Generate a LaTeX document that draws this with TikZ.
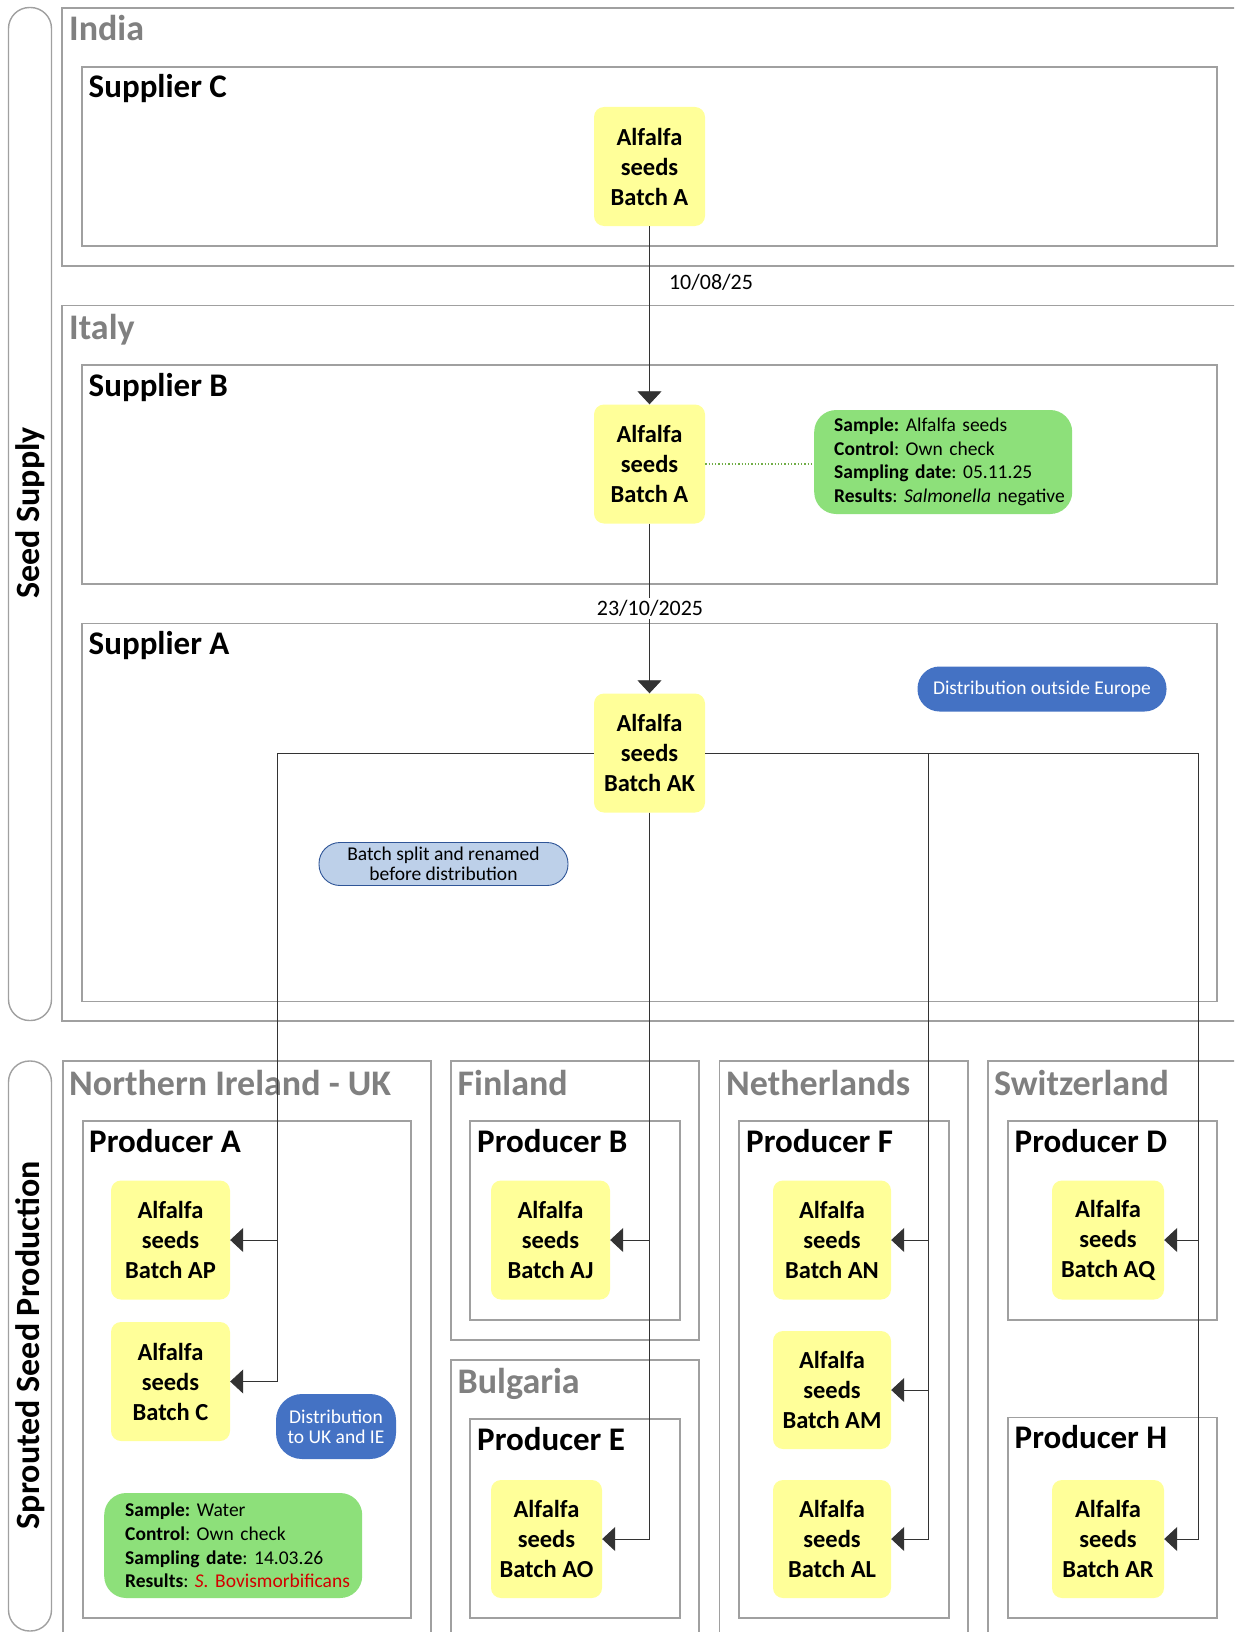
\documentclass[tikz,border=0pt]{standalone}
\usepackage{fontspec}
\setmainfont{Carlito}
\usetikzlibrary{arrows.meta}
\definecolor{boxgray}{RGB}{160,160,160}
\definecolor{labgray}{RGB}{128,128,128}
\definecolor{yel}{RGB}{255,255,153}
\definecolor{grn}{RGB}{141,224,122}
\definecolor{dblue}{RGB}{68,114,196}
\definecolor{lblue}{RGB}{189,208,233}
\definecolor{lbord}{RGB}{47,85,151}
\definecolor{dotgrn}{RGB}{112,173,71}
\definecolor{sred}{RGB}{210,0,0}
\frenchspacing
\begin{document}
\begin{tikzpicture}[x=1pt,y=-1pt,
  container/.style={draw=boxgray, line width=1.4pt},
  pillbox/.style={draw=boxgray, line width=1.4pt, rounded corners=21pt},
  country/.style={anchor=base west, inner sep=0pt, text=labgray, font=\bfseries\fontsize{36}{40}\selectfont},
  site/.style={anchor=base west, inner sep=0pt, font=\bfseries\fontsize{33}{38}\selectfont},
  sidelabel/.style={rotate=90, inner sep=0pt, font=\bfseries\fontsize{34}{38}\selectfont},
  batch/.style={fill=yel, rounded corners=10pt, align=center, inner sep=0pt, minimum height=119pt, font=\bfseries\fontsize{24.5}{30}\selectfont},
  note/.style={fill=grn, rounded corners=22pt, align=left, anchor=west, inner xsep=20pt, inner ysep=0pt, text width=218pt, minimum height=104pt, font=\fontsize{19.5}{23.6}\selectfont},
  darkpill/.style={fill=dblue, text=white, align=center, inner sep=0pt, font=\fontsize{19.5}{20}\selectfont},
  lightpill/.style={fill=lblue, draw=lbord, line width=0.9pt, align=center, inner sep=0pt, font=\fontsize{19.5}{19.5}\selectfont},
  datelabel/.style={inner sep=2pt, font=\fontsize{22}{26}\selectfont},
  conn/.style={draw=black!80, line width=0.8pt},
  arr/.style={conn, -{Triangle[length=13pt,width=24pt]}}
]
\useasboundingbox (0,0) rectangle (1234,1632);
\clip (0,0) rectangle (1234,1632);
\fill[white] (0,0) rectangle (1234,1632);

% side pills
\draw[pillbox] (8.5,7.5) rectangle (51.5,1020.5);
\draw[pillbox] (8.5,1061) rectangle (51.5,1631);
\node[sidelabel] (lblSeed) at (30,513) {Seed Supply};
\node[sidelabel] (lblSprout) at (30,1345) {Sprouted Seed Production};

% seed supply containers
\draw[container] (62,8) rectangle (1260,266);
\draw[container] (82,67) rectangle (1217,246);
\draw[container] (62,305.5) rectangle (1260,1021);
\draw[container] (82,365) rectangle (1217,584);
\draw[container] (82,623.5) rectangle (1217,1001.5);
\node[country] (lIndia) at (69,41) {India};
\node[site] (lSupC) at (88.5,98) {Supplier C};
\node[country] (lItaly) at (69,339) {Italy};
\node[site] (lSupB) at (88.5,396) {Supplier B};
\node[site] (lSupA) at (88.5,654.5) {Supplier A};

% production containers
\draw[container] (63,1061) rectangle (431,1660);
\draw[container] (83,1121) rectangle (411,1618);
\draw[container] (451,1061) rectangle (699,1340);
\draw[container] (470,1121) rectangle (680,1320);
\draw[container] (451,1360) rectangle (699,1660);
\draw[container] (470,1419) rectangle (680,1618);
\draw[container] (719.5,1061) rectangle (968,1660);
\draw[container] (739,1121) rectangle (949,1618);
\draw[container] (988,1061) rectangle (1260,1660);
\draw[container] (1008,1121) rectangle (1217,1320);
\draw[container] (1008,1417.5) rectangle (1217,1618);
\node[country] (lNI) at (69,1095) {Northern Ireland - UK};
\node[site] (lProdA) at (89,1152) {Producer A};
\node[country] (lFin) at (457.5,1095) {Finland};
\node[site] (lProdB) at (477,1152) {Producer B};
\node[country] (lBul) at (457.5,1393.5) {Bulgaria};
\node[site] (lProdE) at (477,1450) {Producer E};
\node[country] (lNL) at (726,1095) {Netherlands};
\node[site] (lProdF) at (746,1152) {Producer F};
\node[country] (lCH) at (994,1095) {Switzerland};
\node[site] (lProdD) at (1014.5,1152) {Producer D};
\node[site] (lProdH) at (1014.5,1448.5) {Producer H};

% batches
\node[batch, minimum width=111pt] (bC) at (649.5,166.5) {Alfalfa\\seeds\\Batch A};
\node[batch, minimum width=111pt] (bB) at (649.5,464) {Alfalfa\\seeds\\Batch A};
\node[batch, minimum width=111pt] (bAK) at (649.5,753) {Alfalfa\\seeds\\Batch AK};
\node[batch, minimum width=119pt] (bAP) at (170.5,1240) {Alfalfa\\seeds\\Batch AP};
\node[batch, minimum width=119pt] (bCC) at (170.5,1381.5) {Alfalfa\\seeds\\Batch C};
\node[batch, minimum width=119pt] (bAJ) at (550.5,1240) {Alfalfa\\seeds\\Batch AJ};
\node[batch, minimum width=111pt, minimum height=118pt] (bAO) at (546.5,1539) {Alfalfa\\seeds\\Batch AO};
\node[batch, minimum width=118pt] (bAN) at (832,1240) {Alfalfa\\seeds\\Batch AN};
\node[batch, minimum width=118pt, minimum height=118pt] (bAM) at (832,1390) {Alfalfa\\seeds\\Batch AM};
\node[batch, minimum width=118pt, minimum height=118pt] (bAL) at (832,1539) {Alfalfa\\seeds\\Batch AL};
\node[batch, minimum width=112pt] (bAQ) at (1108,1240) {Alfalfa\\seeds\\Batch AQ};
\node[batch, minimum width=112pt, minimum height=118pt] (bAR) at (1108,1539) {Alfalfa\\seeds\\Batch AR};

% notes
\node[note] (noteB) at (814,462) {\mbox{\textbf{Sample:} Alfalfa seeds}\\\mbox{\textbf{Control}: Own check}\\\mbox{\textbf{Sampling date}: 05.11.25}\\\mbox{\textbf{Results}: \textit{Salmonella} negative}};
\node[note, inner xsep=21pt, text width=216pt, minimum height=105pt] (noteA) at (104,1545.5) {\mbox{\textbf{Sample:} Water}\\\mbox{\textbf{Control}: Own check}\\\mbox{\textbf{Sampling date}: 14.03.26}\\\mbox{\textbf{Results}: {\color{sred}\textit{S.} Bovismorbificans}}};
\node[darkpill, minimum width=249pt, minimum height=45pt, rounded corners=22pt] (outEU) at (1042,689) {Distribution outside Europe};
\node[darkpill, minimum width=120pt, minimum height=65pt, rounded corners=26pt] (toUK) at (336,1426.5) {Distribution\\to UK and IE};
\node[lightpill, minimum width=249pt, minimum height=43pt, rounded corners=21pt] (split) at (443.5,864) {Batch split and renamed\\before distribution};

% connectors
\coordinate (jW) at (277,753);
\coordinate (jE1) at (928,753);
\coordinate (jE2) at (1198,753);
\draw[arr] (bC.south) -- (bB.north);
\draw[arr] (bB.south) -- (bAK.north);
\draw[dotgrn, dotted, line width=1.3pt] (bB.east) -- (bB.east -| noteB.west);
\draw[arr] (bAK.west) -- (jW) |- (bAP.east);
\draw[arr] (jW) |- (bCC.east);
\draw[arr] (bAK.south) |- (bAJ.east);
\draw[arr] (bAK.south) |- (bAO.east);
\draw[conn] (bAK.east) -- (jE2);
\draw[arr] (jE1) |- (bAN.east);
\draw[arr] (jE1) |- (bAM.east);
\draw[arr] (jE1) |- (bAL.east);
\draw[arr] (jE2) |- (bAQ.east);
\draw[arr] (jE2) |- (bAR.east);

% date labels
\node[datelabel] (d1) at (711,282) {10/08/25};
\node[datelabel, fill=white] (d2) at (650,608.5) {23/10/2025};
\end{tikzpicture}
\end{document}
